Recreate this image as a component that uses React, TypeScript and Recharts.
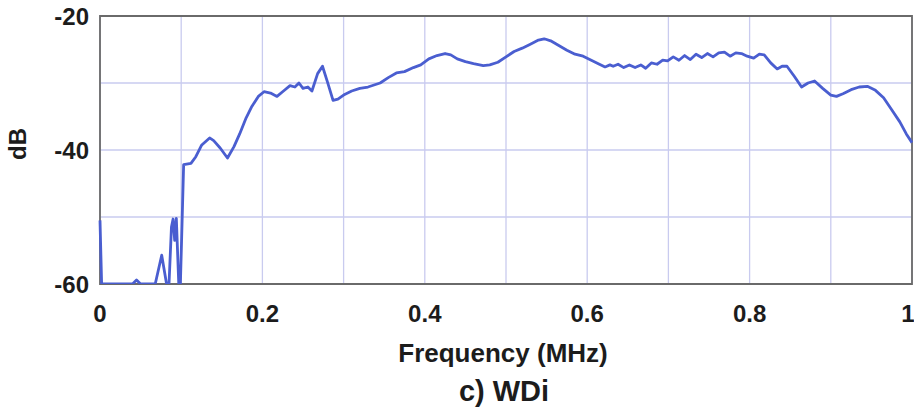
import { CartesianGrid, Line, LineChart, ReferenceArea, XAxis, YAxis } from "recharts";

const freqMHz = [
  0, 0.002, 0.04, 0.045, 0.05, 0.068, 0.076, 0.082, 0.085, 0.088, 0.09, 0.092, 0.094, 0.097, 0.099, 0.103, 0.112,
  0.118, 0.125, 0.135, 0.14, 0.148, 0.157, 0.165, 0.172, 0.18, 0.187, 0.195, 0.202, 0.21, 0.218, 0.226,
  0.234, 0.24, 0.245, 0.25, 0.256, 0.261, 0.268, 0.274, 0.28, 0.287, 0.293, 0.3, 0.31, 0.32, 0.33,
  0.345, 0.355, 0.365, 0.375, 0.386, 0.395, 0.405, 0.415, 0.425, 0.432, 0.44, 0.45, 0.46, 0.472, 0.48,
  0.49, 0.5, 0.51, 0.52, 0.53, 0.54, 0.547, 0.555, 0.565, 0.575, 0.585, 0.595, 0.605, 0.615, 0.622,
  0.628, 0.632, 0.638, 0.645, 0.652, 0.659, 0.666, 0.672, 0.679, 0.686, 0.693, 0.699, 0.706, 0.713,
  0.72, 0.727, 0.734, 0.741, 0.748, 0.755, 0.762, 0.769, 0.776, 0.783, 0.79, 0.797, 0.805, 0.812,
  0.818, 0.826, 0.834, 0.84, 0.846, 0.855, 0.864, 0.872, 0.88, 0.89, 0.9, 0.907, 0.915, 0.925, 0.935,
  0.945, 0.955, 0.965, 0.975, 0.985, 0.993, 1.0,
];

const levelDb = [
  -50.5, -60, -60, -59.4, -60, -60, -55.7, -60, -60, -51.5, -50.3, -53.5, -50.2, -60, -60, -42.2, -42,
  -41, -39.3, -38.2, -38.6, -39.7, -41.2, -39.5, -37.6, -35.2, -33.5, -32, -31.3, -31.5, -32, -31.2,
  -30.4, -30.6, -30, -30.8, -30.6, -31.2, -28.6, -27.5, -29.8, -32.6, -32.4, -31.8, -31.2, -30.8, -30.6,
  -30, -29.2, -28.5, -28.3, -27.7, -27.3, -26.4, -25.9, -25.6, -25.8, -26.4, -26.8, -27.1, -27.4, -27.3,
  -26.9, -26.1, -25.3, -24.8, -24.2, -23.6, -23.4, -23.7, -24.4, -25.1, -25.7, -26, -26.6, -27.2, -27.6,
  -27.3, -27.5, -27.2, -27.7, -27.3, -27.7, -27.3, -27.8, -27.0, -27.2, -26.6, -26.7, -26.1, -26.6,
  -25.9, -26.5, -25.7, -26.2, -25.6, -26.1, -25.5, -25.4, -26.0, -25.5, -25.6, -26.0, -26.3, -25.7,
  -25.8, -27.0, -27.9, -27.5, -27.5, -29.0, -30.6, -30.0, -29.7, -30.8, -31.8, -32.0, -31.6, -31, -30.6,
  -30.5, -31.1, -32.2, -34, -35.8, -37.6, -38.9,
];

const xTicks = [0, 0.1, 0.2, 0.3, 0.4, 0.5, 0.6, 0.7, 0.8, 0.9, 1];
const xTickLabels = ["0", "", "0.2", "", "0.4", "", "0.6", "", "0.8", "", "1"];
const yTicks = [-60, -50, -40, -30, -20];
const yTickLabels = ["-60", "", "-40", "", "-20"];

const data = freqMHz.map((f, i) => ({ f, db: levelDb[i] }));

const FONT = "'Liberation Sans', Arial, sans-serif";
const TEXT = "#1c1c1c";

export default function App() {
  return (
    <div style={{ position: "absolute", left: 0, top: 0, width: 914, height: 413, background: "#fff", fontFamily: FONT }}>
      <LineChart width={914} height={413} data={data} margin={{ top: 16, right: 2, left: 0, bottom: 0 }}>
        <CartesianGrid stroke="#c9cbef" strokeWidth={1.3} />
        <XAxis
          dataKey="f"
          type="number"
          domain={[0, 1]}
          ticks={xTicks}
          tickFormatter={(v: number) => xTickLabels[xTicks.indexOf(v)] ?? ""}
          height={129}
          tickSize={0}
          tickMargin={21}
          axisLine={false}
          tickLine={false}
          tick={{ fill: TEXT, fontSize: 24, fontWeight: 700, fontFamily: FONT }}
        />
        <YAxis
          type="number"
          domain={[-60, -20]}
          allowDataOverflow
          ticks={yTicks}
          tickFormatter={(v: number) => yTickLabels[yTicks.indexOf(v)] ?? ""}
          width={100}
          tickSize={0}
          tickMargin={11}
          axisLine={false}
          tickLine={false}
          tick={{ fill: TEXT, fontSize: 24, fontWeight: 700, fontFamily: FONT }}
        />
        <ReferenceArea x1={0} x2={1} y1={-60} y2={-20} fill="none" fillOpacity={0} stroke="#6a6a6a" strokeWidth={1.8} strokeOpacity={1} />
        <Line
          type="linear"
          dataKey="db"
          stroke="#4a5ed0"
          strokeWidth={2.8}
          strokeLinejoin="round"
          dot={false}
          isAnimationActive={false}
        />
      </LineChart>
      <div style={{ position: "absolute", left: 0, width: 36, top: 129, height: 30, display: "flex", alignItems: "center", justifyContent: "center" }}>
        <span style={{ transform: "rotate(-90deg)", fontSize: 24, fontWeight: 700, color: TEXT, whiteSpace: "nowrap" }}>dB</span>
      </div>
      <div style={{ position: "absolute", left: 303, width: 400, top: 338, textAlign: "center", fontSize: 26, fontWeight: 700, color: TEXT, lineHeight: "30px" }}>
        Frequency (MHz)
      </div>
      <div style={{ position: "absolute", left: 304, width: 400, top: 375, textAlign: "center", fontSize: 29, fontWeight: 700, color: TEXT, lineHeight: "32px" }}>
        c) WDi
      </div>
    </div>
  );
}
